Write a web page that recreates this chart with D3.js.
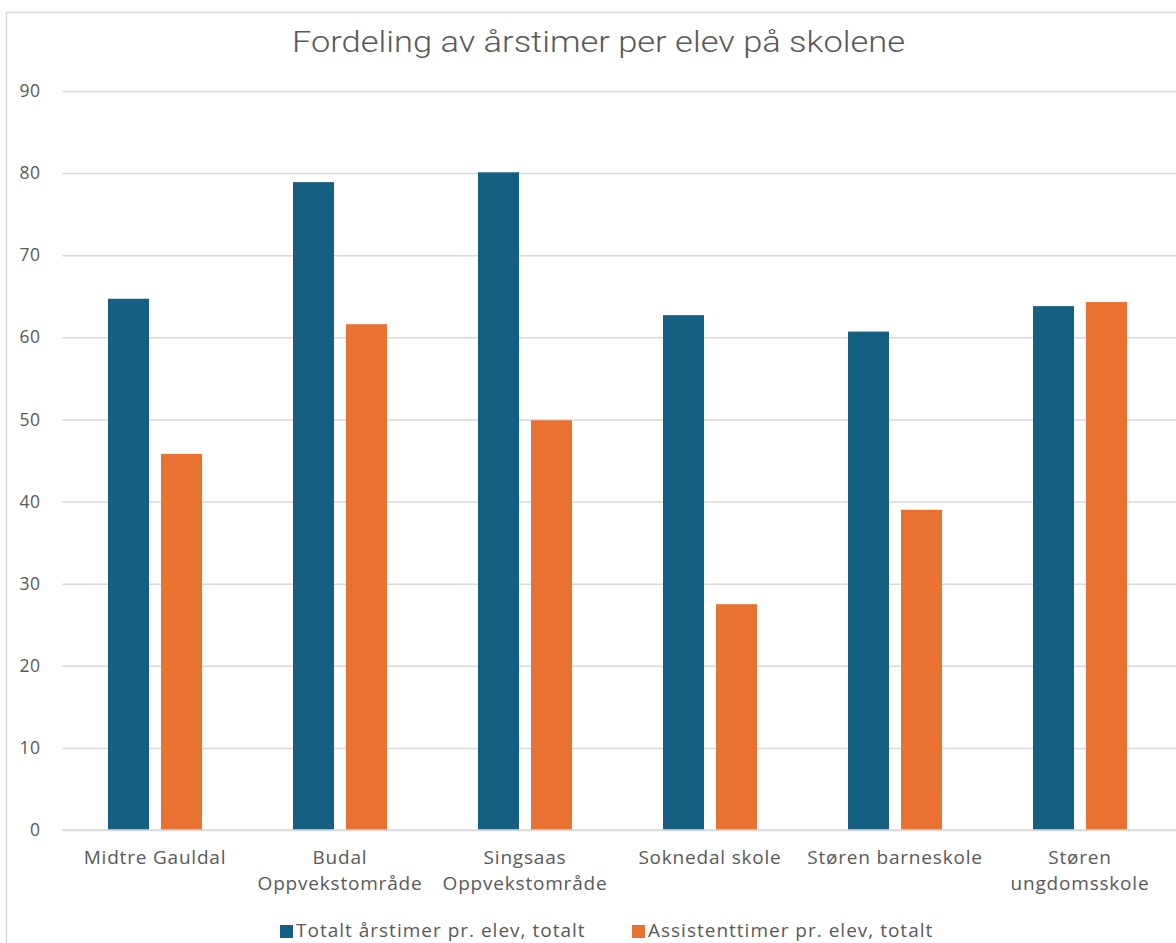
<!DOCTYPE html>
<html>
<head>
<meta charset="utf-8">
<script src="https://cdn.jsdelivr.net/npm/d3@7"></script>
<style>
  body { margin: 0; background: #fff; }
  svg { display: block; }
  text { font-family: "Open Sans", "Noto Sans", sans-serif; fill: #595959; }
</style>
</head>
<body>
<svg id="chart" width="1176" height="943"></svg>
<script>
const categories = [
  ['Midtre Gauldal'],
  ['Budal', 'Oppvekstområde'],
  ['Singsaas', 'Oppvekstområde'],
  ['Soknedal skole'],
  ['Støren barneskole'],
  ['Støren', 'ungdomsskole']
]
const totalHours = [64.7, 78.9, 80.1, 62.7, 60.7, 63.8]
const assistantHours = [45.8, 61.6, 49.9, 27.5, 39.0, 64.3]
const seriesNames = ['Totalt årstimer pr. elev, totalt', 'Assistenttimer pr. elev, totalt']
const seriesColors = ['#156082', '#e97132']
const yTicks = [0, 10, 20, 30, 40, 50, 60, 70, 80, 90]

const svg = d3.select('#chart')
const margin = {top: 91, right: 4, bottom: 113, left: 62.5}
const width = 1176, height = 943

// chart frame
svg.append('rect')
  .attr('x', 6.5).attr('y', 12.5)
  .attr('width', 1200).attr('height', 1000)
  .attr('fill', 'none').attr('stroke', '#d9d9d9').attr('stroke-width', 1.5)

svg.append('text')
  .attr('x', 292).attr('y', 52)
  .attr('font-size', 30)
  .attr('font-weight', 300)
  .attr('textLength', 613)
  .attr('lengthAdjust', 'spacingAndGlyphs')
  .style('font-family', '"Roboto", sans-serif')
  .text('Fordeling av årstimer per elev på skolene')

const x = d3.scaleBand()
  .domain(d3.range(categories.length))
  .range([margin.left, margin.left + 185 * 6])

const y = d3.scaleLinear()
  .domain([0, 90])
  .range([height - margin.bottom, margin.top])

// gridlines + y labels
const yAxis = svg.append('g')
  .attr('transform', `translate(${margin.left},0)`)
  .call(d3.axisLeft(y).tickValues(yTicks).tickSize(-(width - margin.left)).tickPadding(22))
yAxis.select('.domain').remove()
yAxis.selectAll('.tick line').attr('stroke', '#d9d9d9').attr('stroke-width', 1.5)
yAxis.selectAll('.tick text')
  .attr('font-size', 17.5)
  .attr('fill', '#595959')
  .style('letter-spacing', '0.5px')
  .style('font-family', '"Open Sans", sans-serif')

const inner = d3.scaleBand()
  .domain([0, 1])
  .range([45.5, 139.5])
  .paddingInner(0.226)

const series = [totalHours, assistantHours]
series.forEach((values, si) => {
  svg.append('g')
    .selectAll('rect')
    .data(values)
    .join('rect')
    .attr('x', (d, i) => x(i) + inner(si))
    .attr('width', inner.bandwidth())
    .attr('y', d => y(d))
    .attr('height', d => y(0) - y(d))
    .attr('fill', seriesColors[si])
})

// baseline
svg.append('line')
  .attr('x1', margin.left).attr('x2', width)
  .attr('y1', y(0)).attr('y2', y(0))
  .attr('stroke', '#d9d9d9').attr('stroke-width', 1.5)

// category labels
const labels = svg.append('g')
  .selectAll('text')
  .data(categories)
  .join('text')
  .attr('x', (d, i) => x(i) + x.bandwidth() / 2)
  .attr('y', 864)
  .attr('text-anchor', 'middle')
  .attr('font-size', 19)
  .style('letter-spacing', '0.8px')
labels.selectAll('tspan')
  .data(d => d)
  .join('tspan')
  .attr('x', function () { return d3.select(this.parentNode).attr('x') })
  .attr('dy', (d, i) => i === 0 ? 0 : 26)
  .text(d => d)

// legend
const legendX = [280, 632]
const legend = svg.append('g')
  .selectAll('g')
  .data(seriesNames)
  .join('g')
  .attr('transform', (d, i) => `translate(${legendX[i]},937)`)
legend.append('rect')
  .attr('x', 0).attr('y', -12)
  .attr('width', 13).attr('height', 13)
  .attr('fill', (d, i) => seriesColors[i])
legend.append('text')
  .attr('x', 16).attr('y', 0)
  .attr('font-size', 19)
  .style('letter-spacing', '1px')
  .text(d => d)
</script>
</body>
</html>
